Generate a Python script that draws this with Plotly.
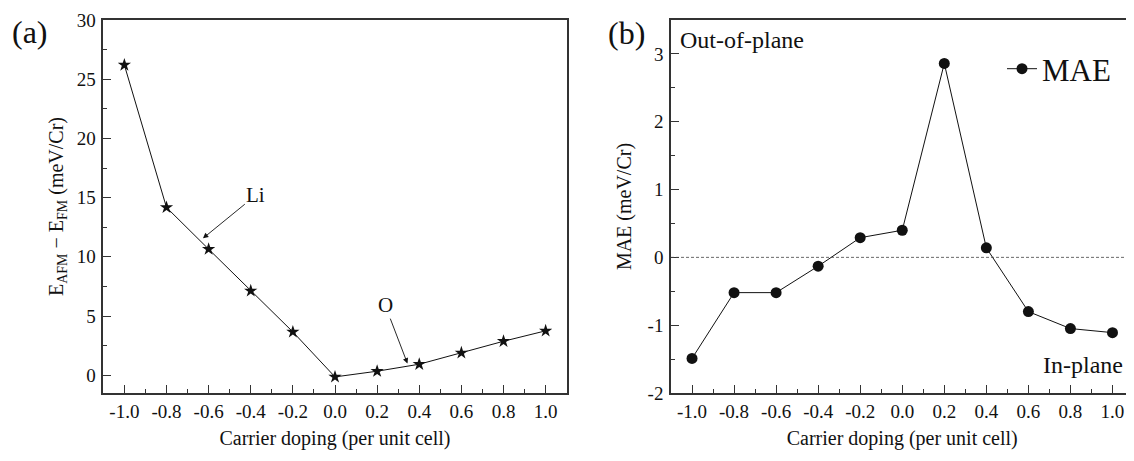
import plotly.graph_objects as go

# ---------------- data ----------------
doping = [-1.0, -0.8, -0.6, -0.4, -0.2, 0.0, 0.2, 0.4, 0.6, 0.8, 1.0]
e_afm_minus_fm = [26.2, 14.17, 10.65, 7.13, 3.66, -0.14, 0.34, 0.93, 1.89, 2.87, 3.75]
mae = [-1.49, -0.52, -0.52, -0.13, 0.29, 0.40, 2.86, 0.14, -0.80, -1.05, -1.11]

x_tickvals = [-1.0, -0.8, -0.6, -0.4, -0.2, 0.0, 0.2, 0.4, 0.6, 0.8, 1.0]
x_ticktext = ["-1.0", "-0.8", "-0.6", "-0.4", "-0.2", "0.0", "0.2", "0.4", "0.6", "0.8", "1.0"]
ya_tickvals = [0, 5, 10, 15, 20, 25, 30]
ya_ticktext = ["0", "5", "10", "15", "20", "25", "30"]
yb_tickvals = [-2, -1, 0, 1, 2, 3]
yb_ticktext = ["-2", "-1", "0", "1", "2", "3"]

FONT = "Liberation Serif"
INK = "#111111"
FRAME = "#333333"

# the page body has an 8px margin: size the figure to the visible area
OFF = 8
W, H = 1134 - OFF, 461 - OFF
TOP_PX, BOT_PX = 20, 392.7           # frame top / bottom in screen pixels
T = TOP_PX - OFF
B = H - (BOT_PX - OFF)
PH = H - T - B


def px(xs):
    """screen pixel column -> paper x"""
    return (xs - OFF) / W


def py(ys):
    """screen pixel row -> paper y"""
    return (BOT_PX - ys) / PH


fig = go.Figure()

fig.add_trace(go.Scatter(
    x=doping, y=e_afm_minus_fm, mode="lines+markers",
    line=dict(color=INK, width=1),
    marker=dict(symbol="star", size=10, color=INK),
    xaxis="x", yaxis="y", showlegend=False, name="E"))

fig.add_trace(go.Scatter(
    x=doping, y=mae, mode="lines+markers",
    line=dict(color=INK, width=1),
    marker=dict(symbol="circle", size=11, color=INK),
    xaxis="x2", yaxis="y2", showlegend=True, name="MAE"))

axis_common = dict(
    showline=True, linewidth=1.5, linecolor=FRAME, mirror=True,
    ticks="inside", ticklen=8, tickwidth=1.2, tickcolor=FRAME,
    showgrid=False, zeroline=False,
    tickfont=dict(family=FONT, size=19, color=INK),
    title_font=dict(family=FONT, size=20, color=INK),
)

xa = dict(axis_common, range=[-1.1, 1.1], tickvals=x_tickvals, ticktext=x_ticktext,
          minor=dict(ticks="inside", ticklen=4, tickwidth=1.2, tickcolor=FRAME,
                     tickvals=[v + 0.1 for v in x_tickvals[:-1]]),
          ticklabelstandoff=0,
          title=dict(text="Carrier doping (per unit cell)", standoff=10))

fig.update_layout(
    width=W, height=H,
    margin=dict(l=0, r=0, t=T, b=B),
    paper_bgcolor="white", plot_bgcolor="white",
    font=dict(family=FONT, color=INK),
    xaxis=dict(xa, domain=[px(103.3), px(566.7)], anchor="y"),
    xaxis2=dict(xa, domain=[px(671.0), min(px(1133.5), 1.0)], anchor="y2"),
    yaxis=dict(axis_common, range=[-1.5, 30], tickvals=ya_tickvals, ticktext=ya_ticktext,
               minor=dict(ticks="inside", ticklen=4, tickwidth=1.2, tickcolor=FRAME,
                          tickvals=[v + 2.5 for v in ya_tickvals[:-1]]),
               ticklabelstandoff=2, anchor="x", domain=[0, 1],
               title=dict(text="E<sub>AFM</sub> − E<sub>FM</sub> (meV/Cr)", standoff=8)),
    yaxis2=dict(axis_common, range=[-2, 3.5], tickvals=yb_tickvals, ticktext=yb_ticktext,
                minor=dict(ticks="inside", ticklen=4, tickwidth=1.2, tickcolor=FRAME,
                           tickvals=[v + 0.5 for v in yb_tickvals]),
                ticklabelstandoff=2, anchor="x2", domain=[0, 1],
                title=dict(text="MAE (meV/Cr)", standoff=11)),
    legend=dict(x=px(1002), y=py(69), xanchor="left", yanchor="middle",
                font=dict(family=FONT, size=31, color=INK),
                bgcolor="rgba(0,0,0,0)", borderwidth=0),
    shapes=[dict(type="line", xref="x2 domain", yref="y2", x0=0, x1=1, y0=0, y1=0,
                 line=dict(color="#444444", width=0.8, dash="3px,2px"))],
)

ann = []
# panel labels
ann.append(dict(text="(a)", xref="paper", yref="paper", x=px(10), y=py(32),
                xanchor="left", yanchor="middle", showarrow=False,
                font=dict(family=FONT, size=32, color=INK)))
ann.append(dict(text="(b)", xref="paper", yref="paper", x=px(606), y=py(33),
                xanchor="left", yanchor="middle", showarrow=False,
                font=dict(family=FONT, size=32, color=INK)))
# region labels
ann.append(dict(text="Out-of-plane", xref="paper", yref="paper", x=px(678), y=py(40),
                xanchor="left", yanchor="middle", showarrow=False,
                font=dict(family=FONT, size=24, color=INK)))
ann.append(dict(text="In-plane", xref="paper", yref="paper", x=px(1125), y=py(365),
                xanchor="right", yanchor="middle", showarrow=False,
                font=dict(family=FONT, size=24, color=INK)))
# Li / O labels with arrows (text at tail, arrow tip on the curve)
ann.append(dict(text="Li", xref="x", yref="y", axref="x", ayref="y",
                x=-0.627, y=11.56, ax=-0.376, ay=15.2, showarrow=True,
                arrowhead=2, arrowsize=1.2, arrowwidth=0.9, arrowcolor=INK,
                font=dict(family=FONT, size=21, color=INK)))
ann.append(dict(text="O", xref="x", yref="y", axref="x", ayref="y",
                x=0.344, y=0.99, ax=0.238, ay=5.92, showarrow=True,
                arrowhead=2, arrowsize=1.2, arrowwidth=0.9, arrowcolor=INK,
                font=dict(family=FONT, size=21, color=INK)))
fig.update_layout(annotations=ann)

fig.write_html("out.html")
